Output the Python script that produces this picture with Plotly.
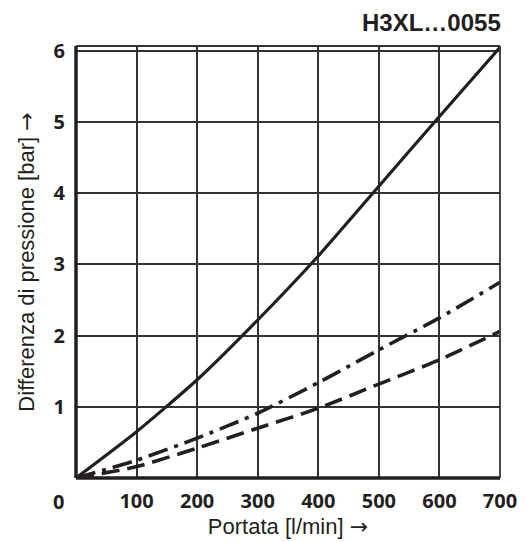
import plotly.graph_objects as go

flow = [0, 100, 200, 300, 400, 500, 600, 700]
solid_dp = [0, 0.65, 1.38, 2.22, 3.12, 4.10, 5.08, 6.05]
dashdot_dp = [0, 0.25, 0.56, 0.91, 1.34, 1.80, 2.25, 2.75]
dashed_dp = [0, 0.16, 0.42, 0.70, 0.98, 1.32, 1.66, 2.06]

x_ticks = [100, 200, 300, 400, 500, 600, 700]
y_ticks = [1, 2, 3, 4, 5, 6]

title_text = "H3XL…0055"
arrow = "<span style=\"font-family:'DejaVu Sans'\">→</span>"
x_title = "Portata [l/min] " + arrow
y_title = "Differenza di pressione [bar] " + arrow

ink = "#231f20"

fig = go.Figure()
fig.add_trace(go.Scatter(x=flow, y=solid_dp, mode="lines",
                         line=dict(color=ink, width=3.2, shape="spline", smoothing=0.6),
                         showlegend=False, hoverinfo="skip"))
fig.add_trace(go.Scatter(x=flow, y=dashdot_dp, mode="lines",
                         line=dict(color=ink, width=3.6, shape="spline", smoothing=0.6,
                                   dash="20px,7px,4px,7px"),
                         showlegend=False, hoverinfo="skip"))
fig.add_trace(go.Scatter(x=flow, y=dashed_dp, mode="lines",
                         line=dict(color=ink, width=3.6, shape="spline", smoothing=0.6,
                                   dash="18px,8px"),
                         showlegend=False, hoverinfo="skip"))

tick_font = dict(family="Open Sans", size=20, color=ink, weight="bold")
title_font = dict(family="Liberation Sans", size=22, color=ink)

fig.update_xaxes(range=[0, 700], tickvals=x_ticks, showgrid=True, gridcolor="#333333",
                 gridwidth=1.6, zeroline=False, showline=False, ticks="",
                 tickfont=tick_font, ticklabelstandoff=9, automargin=False,
                 title=dict(text=x_title, font=title_font, standoff=2))
fig.update_yaxes(range=[0, 6.07], tickvals=y_ticks, showgrid=True, gridcolor="#333333",
                 gridwidth=1.6, zeroline=False, showline=False, ticks="",
                 tickfont=tick_font, ticklabelstandoff=10, automargin=False,
                 title=dict(text=y_title, font=title_font, standoff=12))

# frame
fig.add_shape(type="line", xref="x domain", yref="y domain", x0=0, x1=1, y0=1, y1=1,
              line=dict(color="#333333", width=1.8))
fig.add_shape(type="line", xref="x domain", yref="y domain", x0=1, x1=1, y0=0, y1=1,
              line=dict(color="#333333", width=1.8))
fig.add_shape(type="line", xref="x domain", yref="y domain", x0=0, x1=0, y0=0, y1=1,
              line=dict(color=ink, width=3.5))
fig.add_shape(type="line", xref="x domain", yref="y domain", x0=0, x1=1, y0=0, y1=0,
              line=dict(color=ink, width=3.5))

fig.add_annotation(x=0, y=0, xref="x", yref="y", text="0", showarrow=False,
                   font=tick_font, xanchor="center", yanchor="middle",
                   xshift=-18, yshift=-23)
fig.add_annotation(x=1, y=1, xref="paper", yref="paper", text="<b>" + title_text + "</b>",
                   showarrow=False, font=dict(family="Liberation Sans", size=24, color=ink),
                   xanchor="right", yanchor="bottom", yshift=8, xshift=3)

# page body has an 8px default margin; compensate so the plot lands where the reference has it
fig.update_layout(width=519, height=534, margin=dict(l=68, r=27, t=38, b=64, autoexpand=False),
                  plot_bgcolor="white", paper_bgcolor="white")

fig.write_html("out.html")
